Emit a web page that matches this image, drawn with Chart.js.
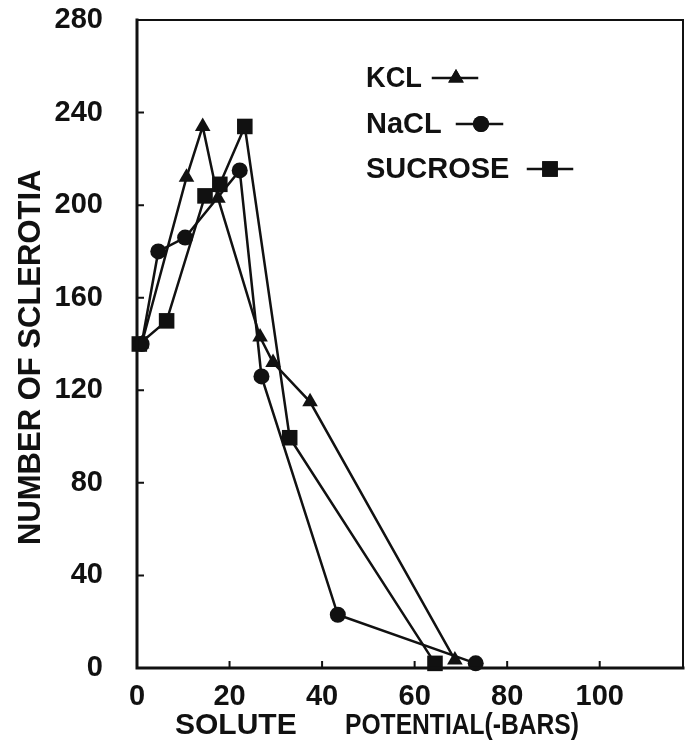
<!DOCTYPE html>
<html>
<head>
<meta charset="utf-8">
<script src="https://cdn.jsdelivr.net/npm/chart.js@4"></script>
<style>
  html, body { margin: 0; padding: 0; background: #fff; }
  #wrap { width: 694px; height: 753px; }
</style>
</head>
<body>
<div id="wrap"><canvas id="myChart"></canvas></div>
<script>
// values
const kclX = [1, 10.7, 14.2, 17.5, 26.6, 29.4, 37.4, 68.7];
const kclY = [140, 212, 234, 203, 143, 132, 115, 3.5];
const naclX = [1, 4.6, 10.4, 22.2, 26.9, 43.4, 73.2];
const naclY = [140, 180, 186, 215, 126, 23, 2];
const sucroseX = [0.5, 6.4, 14.7, 17.9, 23.3, 33, 64.4];
const sucroseY = [140, 150, 204, 209, 234, 99.5, 2];

const xTicks = [0, 20, 40, 60, 80, 100];
const yTicks = [0, 40, 80, 120, 160, 200, 240, 280];

const legendItems = [
  { label: "KCL", style: "triangle" },
  { label: "NaCL", style: "circle" },
  { label: "SUCROSE", style: "rect" }
];

const toPoints = (xs, ys) => xs.map((x, i) => ({ x: x, y: ys[i] }));

const INK = "#111";
const FONT = "'Liberation Sans', Arial, sans-serif";

function series(label, xs, ys, style, radius) {
  return {
    label: label,
    data: toPoints(xs, ys),
    borderColor: INK,
    backgroundColor: INK,
    borderWidth: 2.5,
    pointStyle: style,
    pointRadius: radius,
    pointBorderWidth: 0,
    tension: 0,
    clip: false
  };
}

// frame, inward ticks, axis titles and the legend
const decor = {
  id: "decor",
  afterDraw(chart) {
    const { ctx, chartArea: a, scales } = chart;
    ctx.save();
    ctx.strokeStyle = INK;
    ctx.lineCap = "square";

    ctx.lineWidth = 3;
    ctx.beginPath();
    ctx.moveTo(a.left, a.top);
    ctx.lineTo(a.left, a.bottom);
    ctx.lineTo(a.right, a.bottom);
    ctx.stroke();
    ctx.lineWidth = 2;
    ctx.beginPath();
    ctx.moveTo(a.left, a.top);
    ctx.lineTo(a.right, a.top);
    ctx.lineTo(a.right, a.bottom);
    ctx.stroke();

    ctx.lineWidth = 2;
    ctx.beginPath();
    yTicks.forEach(v => {
      const py = scales.y.getPixelForValue(v);
      ctx.moveTo(a.left, py);
      ctx.lineTo(a.left + 6, py);
    });
    xTicks.forEach(v => {
      const px = scales.x.getPixelForValue(v);
      ctx.moveTo(px, a.bottom);
      ctx.lineTo(px, a.bottom - 6);
    });
    ctx.stroke();

    // axis titles
    ctx.fillStyle = INK;
    ctx.font = "bold 30px " + FONT;
    ctx.textBaseline = "middle";
    ctx.textAlign = "left";
    ctx.fillText("SOLUTE", 175, 726, 126);
    ctx.fillText("POTENTIAL(-BARS)", 345, 726, 234);

    ctx.save();
    ctx.translate(31, 545);
    ctx.rotate(-Math.PI / 2);
    ctx.font = "bold 31px " + FONT;
    ctx.fillText("NUMBER OF SCLEROTIA", 0, 0, 376);
    ctx.restore();

    // legend
    const rows = [
      { y: 78, tx: 366, tw: 56, l0: 433, l1: 477, m: 456, r: 9 },
      { y: 124, tx: 366, tw: 77, l0: 457, l1: 502, m: 481, r: 8 },
      { y: 169, tx: 366, tw: 145, l0: 528, l1: 572, m: 550, r: 11 }
    ];
    ctx.font = "bold 29px " + FONT;
    legendItems.forEach((it, i) => {
      const r = rows[i];
      ctx.fillText(it.label, r.tx, r.y + 1, r.tw);
      ctx.lineWidth = 2.5;
      ctx.beginPath();
      ctx.moveTo(r.l0, r.y);
      ctx.lineTo(r.l1, r.y);
      ctx.stroke();
      Chart.helpers.drawPoint(ctx, { pointStyle: it.style, radius: r.r, rotation: 0, borderWidth: 0 }, r.m, r.y);
      ctx.fill();
    });
    ctx.restore();
  }
};

new Chart(document.getElementById("myChart"), {
  type: "line",
  data: {
    datasets: [
      series("KCL", kclX, kclY, "triangle", 9),
      series("NaCL", naclX, naclY, "circle", 8),
      series("SUCROSE", sucroseX, sucroseY, "rect", 11)
    ]
  },
  options: {
    responsive: true,
    maintainAspectRatio: false,
    animation: false,
    layout: { padding: { top: 20, right: 1, left: 0, bottom: 0 } },
    plugins: { legend: { display: false }, tooltip: { enabled: false } },
    scales: {
      x: {
        type: "linear",
        min: 0,
        max: 118,
        afterBuildTicks: s => { s.ticks = xTicks.map(v => ({ value: v })); },
        afterFit: s => { s.height = 85; s.paddingLeft = 0; s.paddingRight = 0; },
        grid: { display: false, drawTicks: false },
        border: { display: false },
        ticks: { color: INK, padding: 12, maxRotation: 0, font: { family: FONT, size: 29, weight: "bold" } }
      },
      y: {
        min: 0,
        max: 280,
        afterBuildTicks: s => { s.ticks = yTicks.map(v => ({ value: v })); },
        afterFit: s => { s.width = 137; s.paddingTop = 0; s.paddingBottom = 0; },
        grid: { display: false, drawTicks: false },
        border: { display: false },
        ticks: { color: INK, padding: 34, font: { family: FONT, size: 29, weight: "bold" } }
      }
    }
  },
  plugins: [decor]
});
</script>
</body>
</html>
